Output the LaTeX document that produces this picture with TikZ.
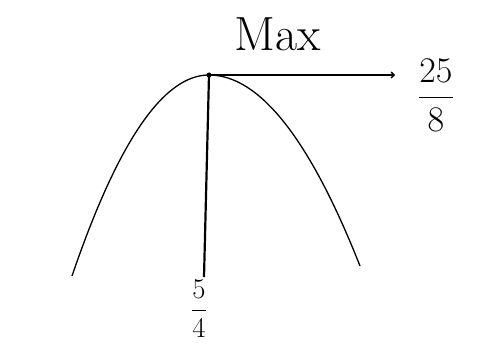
\documentclass[tikz,border=0pt]{standalone}
\usepackage{amsmath,amssymb}
\usepackage{tikz}
\usetikzlibrary{arrows.meta}

\begin{document}
\begin{tikzpicture}[x=1pt, y=-1pt, curve/.style={line width=1.3pt}, lbl/.style={inner sep=0pt}]
	\useasboundingbox (0,0) rectangle (479,344);
	\coordinate (V) at (209,75); \coordinate (L) at (72,276); \coordinate (R) at (360,266); \coordinate (B) at (204,277); \coordinate (H) at (395,75);
	\draw[curve] (L) .. controls (117.7,142) and (163.3,75) .. (V) .. controls (259.3,75) and (309.7,138.7) .. (R);
	\draw[line width=2.2pt] (V) -- (B);
	\draw[curve, -{Straight Barb[length=3pt]}] (V) -- (H);
	\fill (V) circle (2.5);
	\node[lbl, font=\fontsize{48}{52}\selectfont] (max) at (278,34) {Max};
	\node[lbl, scale=1.45, font=\fontsize{24}{28}\selectfont] (yval) at (436,95) {$\dfrac{25}{8}$};
	\node[lbl, scale=1.15, font=\fontsize{24}{28}\selectfont] (xval) at (199,309) {$\dfrac{5}{4}$};
\end{tikzpicture}
\end{document}
